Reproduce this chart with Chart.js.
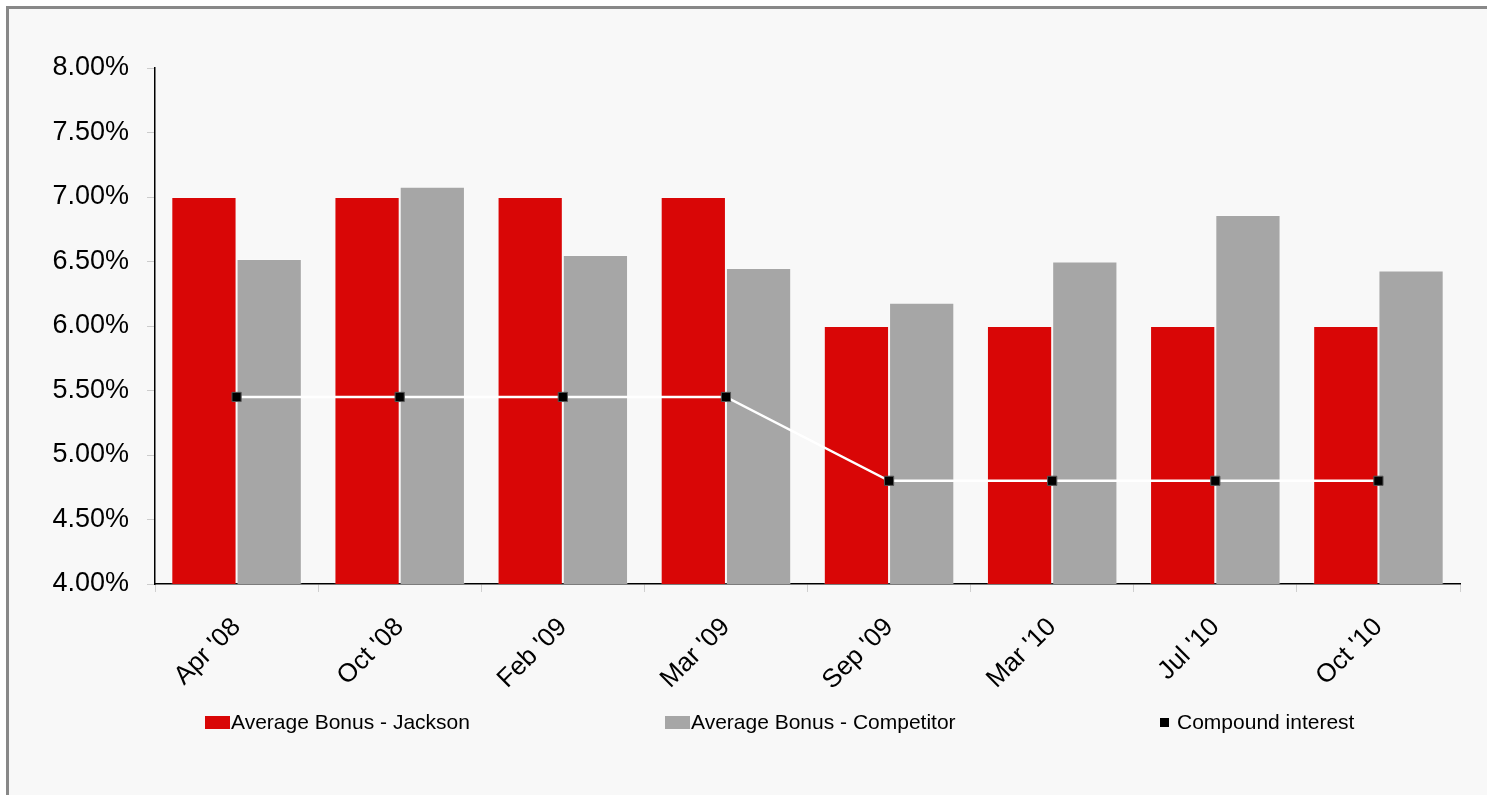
<!DOCTYPE html>
<html>
<head>
<meta charset="utf-8">
<script src="https://cdn.jsdelivr.net/npm/chart.js@4.4.1/dist/chart.umd.min.js"></script>
<style>
  html, body { margin: 0; padding: 0; background: #ffffff; width: 1487px; height: 795px; overflow: hidden; }
  #frame { position: absolute; left: 6px; top: 6px; width: 1490px; height: 800px; background: #f8f8f8;
           border-left: 3px solid #888888; border-top: 3px solid #888888; }
  #wrap { position: absolute; left: 0; top: 0; width: 1487px; height: 795px; }
  .lg { position: absolute; top: 710px; height: 24px; display: flex; align-items: center;
        font-family: "Liberation Sans", Arial, sans-serif; font-size: 21px; color: #000; white-space: nowrap; }
  .key { display: inline-block; margin-right: 1px; }
</style>
</head>
<body>
<div id="frame"></div>
<div id="wrap"><canvas id="c" width="1487" height="795"></canvas></div>
<div id="legend"></div>
<script>
const categories = ["Apr '08", "Oct '08", "Feb '09", "Mar '09", "Sep '09", "Mar '10", "Jul '10", "Oct '10"];
const jacksonBonus = [7.00, 7.00, 7.00, 7.00, 6.00, 6.00, 6.00, 6.00];
const competitorBonus = [6.52, 7.08, 6.55, 6.45, 6.18, 6.50, 6.86, 6.43];
const compoundInterest = [5.45, 5.45, 5.45, 5.45, 4.80, 4.80, 4.80, 4.80];
const yTicks = [4.0, 4.5, 5.0, 5.5, 6.0, 6.5, 7.0, 7.5, 8.0];
const seriesNames = ["Average Bonus - Jackson", "Average Bonus - Competitor", "Compound interest"];

const FONT = "'Liberation Sans', Arial, sans-serif";

const chart = new Chart(document.getElementById('c'), {
  data: {
    labels: categories,
    datasets: [
      {
        type: 'line', label: seriesNames[2], data: compoundInterest, order: 0,
        borderColor: '#ffffff', borderWidth: 2.5, tension: 0,
        pointStyle: 'rect', pointRadius: 6.5, pointBackgroundColor: '#000000',
        pointBorderColor: '#555555', pointBorderWidth: 1
      },
      {
        type: 'bar', label: seriesNames[0], data: jacksonBonus, order: 1,
        backgroundColor: '#d90606', borderColor: 'rgba(255,255,255,0.22)', borderWidth: 1,
        barPercentage: 1.0, categoryPercentage: 0.8
      },
      {
        type: 'bar', label: seriesNames[1], data: competitorBonus, order: 1,
        backgroundColor: '#a6a6a6', borderColor: 'rgba(255,255,255,0.22)', borderWidth: 1,
        barPercentage: 1.0, categoryPercentage: 0.8
      }
    ]
  },
  options: {
    responsive: false,
    animation: false,
    layout: { padding: { left: 10, right: 27, top: 68, bottom: 81 } },
    plugins: { legend: { display: false }, tooltip: { enabled: false } },
    scales: {
      x: {
        grid: { display: true, drawOnChartArea: false, drawTicks: true, tickLength: 8, color: '#d0d0d0', offset: true },
        border: { display: true, color: '#000000', width: 1.5 },
        ticks: { color: '#000000', font: { family: FONT, size: 26 }, maxRotation: 45, minRotation: 45, padding: 20, autoSkip: false },
        afterFit: (s) => { s.height = 130; }
      },
      y: {
        min: 4, max: 8,
        afterBuildTicks: (s) => { s.ticks = yTicks.map(v => ({ value: v })); },
        grid: { display: true, drawOnChartArea: false, drawTicks: true, tickLength: 8, color: '#cccccc' },
        border: { display: true, color: '#000000', width: 1.5 },
        ticks: { color: '#000000', font: { family: FONT, size: 27 }, padding: 18,
                 callback: (v) => Number(v).toFixed(2) + '%' },
        afterFit: (s) => { s.width = 145; }
      }
    }
  }
});

// HTML legend built from the chart's datasets
const legendPos = [{ left: 205, key: { w: 25, h: 13, c: '#d90606' } },
                   { left: 665, key: { w: 25, h: 13, c: '#a6a6a6' } },
                   { left: 1160, key: { w: 9, h: 9, c: '#000000' }, gap: 8 }];
const legendEl = document.getElementById('legend');
[1, 2, 0].forEach((di, i) => {
  const ds = chart.data.datasets[di];
  const p = legendPos[i];
  const item = document.createElement('div');
  item.className = 'lg';
  item.style.left = p.left + 'px';
  const key = document.createElement('span');
  key.className = 'key';
  key.style.width = p.key.w + 'px';
  key.style.height = p.key.h + 'px';
  key.style.background = p.key.c;
  if (p.gap) key.style.marginRight = p.gap + 'px';
  const txt = document.createElement('span');
  txt.textContent = ds.label;
  item.appendChild(key);
  item.appendChild(txt);
  legendEl.appendChild(item);
});
</script>
</body>
</html>
